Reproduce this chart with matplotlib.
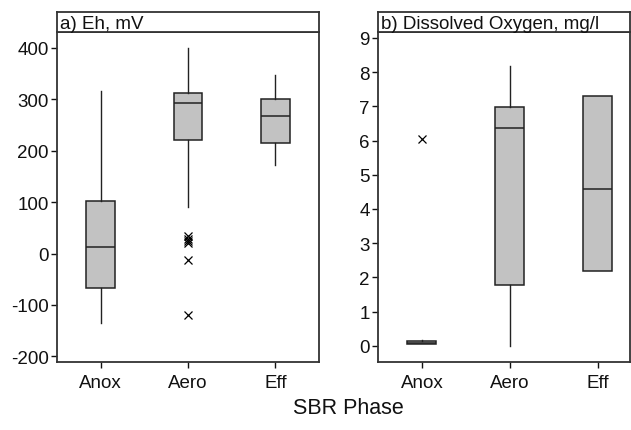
import matplotlib
matplotlib.use('Agg')
import matplotlib.pyplot as plt

plt.rcParams['font.family'] = ['Liberation Sans', 'DejaVu Sans']
plt.rcParams['axes.unicode_minus'] = False

phases = ['Anox', 'Aero', 'Eff']

# a) Eh, mV  (whislo, q1, med, q3, whishi)
eh_whislo = [-136, 90, 173]
eh_q1 = [-68, 221, 216]
eh_med = [13, 292, 268]
eh_q3 = [103, 312, 301]
eh_whishi = [316, 400, 347]
eh_fliers = [[], [34, 28, 24, 21, -12, -120], []]

# b) Dissolved Oxygen, mg/l
do_whislo = [0.05, 0.01, 2.2]
do_q1 = [0.05, 1.78, 2.2]
do_med = [0.09, 6.38, 4.58]
do_q3 = [0.13, 6.97, 7.29]
do_whishi = [0.18, 8.18, 7.29]
do_fliers = [[6.05], [], []]


def make_stats(lo, q1, med, q3, hi, fl):
    return [dict(whislo=lo[i], q1=q1[i], med=med[i], q3=q3[i], whishi=hi[i],
                 fliers=fl[i], label=phases[i]) for i in range(len(phases))]


fig = plt.figure(figsize=(6.31, 4.31), dpi=100)
W, H = 631, 431

panels = [
    (57, 319, 'a) Eh, mV', make_stats(eh_whislo, eh_q1, eh_med, eh_q3, eh_whishi, eh_fliers),
     (-211, 431), [-200, -100, 0, 100, 200, 300, 400], (0.5, 3.5)),
    (378, 630, 'b) Dissolved Oxygen, mg/l', make_stats(do_whislo, do_q1, do_med, do_q3, do_whishi, do_fliers),
     (-0.47, 9.17), list(range(0, 10)), (0.5, 3.37)),
]

edge = '#333333'
for x0, x1, title, stats, ylim, yticks, xlim in panels:
    ax = fig.add_axes([x0 / W, (H - 363) / H, (x1 - x0) / W, 330 / H])
    ax.bxp(stats, positions=[1, 2, 3], widths=0.33, patch_artist=True,
           showcaps=False,
           boxprops=dict(facecolor='#c2c2c2', edgecolor='#222222', linewidth=1.1),
           medianprops=dict(color='#222222', linewidth=1.1),
           whiskerprops=dict(color='#222222', linewidth=1.0),
           flierprops=dict(marker='x', markeredgecolor='black', markersize=6,
                           markeredgewidth=0.9, linestyle='none'))
    ax.set_ylim(*ylim)
    ax.set_xlim(*xlim)
    ax.set_yticks(yticks)
    ax.set_xticks([1, 2, 3])
    ax.set_xticklabels(phases)
    ax.tick_params(labelsize=13.5, colors='#111111', length=4, width=1, pad=2)
    ax.tick_params(axis='x', pad=5)
    for s in ax.spines.values():
        s.set_color(edge)
        s.set_linewidth(1.3)

    strip = fig.add_axes([x0 / W, (H - 33) / H, (x1 - x0) / W, 20 / H])
    strip.set_xticks([])
    strip.set_yticks([])
    for s in strip.spines.values():
        s.set_color(edge)
        s.set_linewidth(1.3)
    strip.text(0.012, 0.42, title, transform=strip.transAxes,
               ha='left', va='center', fontsize=13.5, color='#111111')

fig.text(348 / W, 1 - 409 / H, 'SBR Phase', ha='center', va='center', fontsize=15.5,
         color='#111111')

fig.savefig('out.png', dpi=100)
